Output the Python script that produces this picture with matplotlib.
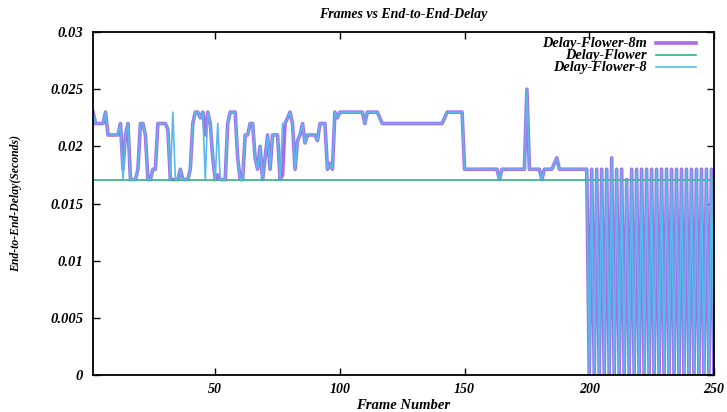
import numpy as np
import matplotlib.pyplot as plt
from matplotlib.lines import Line2D

# frame numbers 1..250
frames = list(range(1, 251))

# Delay-Flower-8 (thin blue)
delay_flower_8 = [
    0.023, 0.022, 0.022, 0.022, 0.022, 0.023, 0.021, 0.021, 0.021, 0.021,
    0.021, 0.022, 0.0171, 0.021, 0.022, 0.0171, 0.0171, 0.0171, 0.018, 0.022,
    0.022, 0.021, 0.0171, 0.0171, 0.018, 0.018, 0.022, 0.022, 0.022, 0.022,
    0.0215, 0.0171, 0.023, 0.0171, 0.0171, 0.018, 0.0171, 0.0171, 0.0171, 0.018,
    0.022, 0.023, 0.023, 0.0225, 0.023, 0.0171, 0.023, 0.022, 0.019, 0.0171,
    0.022, 0.0171, 0.0171, 0.0171, 0.022, 0.023, 0.023, 0.023, 0.019, 0.0171,
    0.0171, 0.021, 0.021, 0.022, 0.022, 0.019, 0.018, 0.020, 0.0171, 0.019,
    0.021, 0.018, 0.021, 0.021, 0.021, 0.0171, 0.022, 0.022, 0.0225, 0.023,
    0.022, 0.018, 0.0205, 0.021, 0.022, 0.0203, 0.021, 0.021, 0.021, 0.021,
    0.0205, 0.022, 0.022, 0.022, 0.018, 0.0185, 0.018, 0.023, 0.0225, 0.023,
    0.023, 0.023, 0.023, 0.023, 0.023, 0.023, 0.023, 0.023, 0.023, 0.022,
    0.023, 0.023, 0.023, 0.023, 0.023, 0.0225, 0.022, 0.022, 0.022, 0.022,
    0.022, 0.022, 0.022, 0.022, 0.022, 0.022, 0.022, 0.022, 0.022, 0.022,
    0.022, 0.022, 0.022, 0.022, 0.022, 0.022, 0.022, 0.022, 0.022, 0.022,
    0.022, 0.0225, 0.023, 0.023, 0.023, 0.023, 0.023, 0.023, 0.023, 0.018,
    0.018, 0.018, 0.018, 0.018, 0.018, 0.018, 0.018, 0.018, 0.018, 0.018,
    0.018, 0.018, 0.018, 0.0171, 0.018, 0.018, 0.018, 0.018, 0.018, 0.018,
    0.018, 0.018, 0.018, 0.018, 0.025, 0.018, 0.018, 0.018, 0.018, 0.018,
    0.0171, 0.018, 0.018, 0.018, 0.018, 0.0185, 0.019, 0.018, 0.018, 0.018,
    0.018, 0.018, 0.018, 0.018, 0.018, 0.018, 0.018, 0.018, 0.018, 0.0,
    0.018, 0.0, 0.018, 0.0, 0.018, 0.0, 0.018, 0.0, 0.019, 0.0,
    0.018, 0.0, 0.018, 0.0, 0.0171, 0.0, 0.018, 0.0, 0.018, 0.0,
    0.018, 0.0, 0.018, 0.0, 0.018, 0.0, 0.018, 0.0, 0.018, 0.0,
    0.018, 0.0, 0.018, 0.0, 0.018, 0.0, 0.018, 0.0, 0.018, 0.0,
    0.018, 0.0, 0.018, 0.0, 0.018, 0.0, 0.018, 0.0, 0.018, 0.0,
]

# Delay-Flower-8m (thick purple), nearly the same as -8
delay_flower_8m = [
    0.023, 0.022, 0.022, 0.022, 0.022, 0.023, 0.021, 0.021, 0.021, 0.021,
    0.021, 0.022, 0.018, 0.021, 0.022, 0.0171, 0.0171, 0.0171, 0.018, 0.022,
    0.022, 0.021, 0.0171, 0.0171, 0.018, 0.018, 0.022, 0.022, 0.022, 0.022,
    0.0215, 0.0171, 0.0171, 0.0171, 0.0171, 0.018, 0.0171, 0.0171, 0.0171, 0.018,
    0.022, 0.023, 0.023, 0.0225, 0.023, 0.021, 0.023, 0.022, 0.019, 0.0171,
    0.0175, 0.0171, 0.0171, 0.0171, 0.022, 0.023, 0.023, 0.023, 0.019, 0.0171,
    0.0171, 0.021, 0.021, 0.022, 0.022, 0.019, 0.018, 0.020, 0.0171, 0.019,
    0.021, 0.018, 0.021, 0.021, 0.021, 0.0171, 0.0175, 0.022, 0.0225, 0.023,
    0.022, 0.018, 0.0205, 0.021, 0.022, 0.0203, 0.021, 0.021, 0.021, 0.021,
    0.0205, 0.022, 0.022, 0.022, 0.018, 0.0185, 0.018, 0.023, 0.0225, 0.023,
    0.023, 0.023, 0.023, 0.023, 0.023, 0.023, 0.023, 0.023, 0.023, 0.022,
    0.023, 0.023, 0.023, 0.023, 0.023, 0.0225, 0.022, 0.022, 0.022, 0.022,
    0.022, 0.022, 0.022, 0.022, 0.022, 0.022, 0.022, 0.022, 0.022, 0.022,
    0.022, 0.022, 0.022, 0.022, 0.022, 0.022, 0.022, 0.022, 0.022, 0.022,
    0.022, 0.0225, 0.023, 0.023, 0.023, 0.023, 0.023, 0.023, 0.023, 0.018,
    0.018, 0.018, 0.018, 0.018, 0.018, 0.018, 0.018, 0.018, 0.018, 0.018,
    0.018, 0.018, 0.018, 0.0171, 0.018, 0.018, 0.018, 0.018, 0.018, 0.018,
    0.018, 0.018, 0.018, 0.018, 0.025, 0.018, 0.018, 0.018, 0.018, 0.018,
    0.0171, 0.018, 0.018, 0.018, 0.018, 0.0185, 0.019, 0.018, 0.018, 0.018,
    0.018, 0.018, 0.018, 0.018, 0.018, 0.018, 0.018, 0.018, 0.018, 0.0,
    0.018, 0.0, 0.018, 0.0, 0.018, 0.0, 0.018, 0.0, 0.019, 0.0,
    0.018, 0.0, 0.018, 0.0, 0.0171, 0.0, 0.018, 0.0, 0.018, 0.0,
    0.018, 0.0, 0.018, 0.0, 0.018, 0.0, 0.018, 0.0, 0.018, 0.0,
    0.018, 0.0, 0.018, 0.0, 0.018, 0.0, 0.018, 0.0, 0.018, 0.0,
    0.018, 0.0, 0.018, 0.0, 0.018, 0.0, 0.018, 0.0, 0.018, 0.0,
]

# Delay-Flower: flat line
flower_frames = [1, 250]
delay_flower = [0.0171, 0.0171]

x_ticks = [50, 100, 150, 200, 250]
y_ticks = [0, 0.005, 0.01, 0.015, 0.02, 0.025, 0.03]
y_tick_labels = ['0', '0.005', '0.01', '0.015', '0.02', '0.025', '0.03']

c_8m = '#a66ee6'
c_flower = '#2fb380'
c_8 = '#5ab8ea'

font = {'family': 'Liberation Serif', 'weight': 'bold', 'style': 'italic'}

fig = plt.figure(figsize=(7.27, 4.12), dpi=100)
ax = fig.add_axes([0.128, 0.09, 0.854, 0.832])

ax.plot(frames, delay_flower_8m, color=c_8m, linewidth=2.6)
ax.plot(flower_frames, delay_flower, color=c_flower, linewidth=1.2)
ax.plot(frames, delay_flower_8, color=c_8, linewidth=1.2)

ax.set_xlim(1, 250)
ax.set_ylim(0, 0.03)
ax.set_xticks(x_ticks)
ax.set_xticklabels([str(t) for t in x_ticks], fontdict=font, fontsize=10)
ax.set_yticks(y_ticks)
ax.set_yticklabels(y_tick_labels, fontdict=font, fontsize=10.5)
ax.tick_params(direction='in', length=5, width=1, top=True, right=True, pad=7)
ax.tick_params(axis='x', pad=6)
for s in ax.spines.values():
    s.set_linewidth(1.3)

ax.set_title('Frames vs End-to-End-Delay', fontdict=font, fontsize=10, pad=10)
ax.set_xlabel('Frame Number', fontdict=font, fontsize=10.5, labelpad=2)
ax.set_ylabel('End-to-End-Delay(Seconds)', fontdict=font, fontsize=8.5, labelpad=20)

# gnuplot style key: right aligned text, sample on the right
key = [('Delay-Flower-8m', c_8m, 2.6), ('Delay-Flower', c_flower, 1.2), ('Delay-Flower-8', c_8, 1.2)]
for i, (name, col, lw) in enumerate(key):
    yy = 0.968 - i * 0.035
    ax.text(0.892, yy, name, transform=ax.transAxes, ha='right', va='center', fontdict=font, fontsize=10.4)
    ax.add_line(Line2D([0.907, 0.971], [yy, yy], transform=ax.transAxes, color=col, linewidth=lw))

plt.savefig('out.png', dpi=100)
